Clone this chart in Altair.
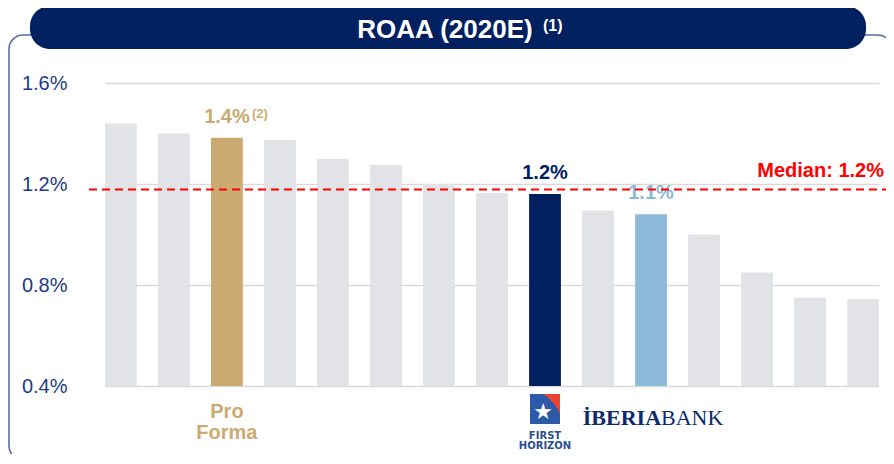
import altair as alt
import pandas as pd

# ---------------- data ----------------
categories = ["Peer 1", "Peer 2", "Pro Forma", "Peer 3", "Peer 4", "Peer 5", "Peer 6",
              "Peer 7", "First Horizon", "Peer 8", "IBERIABANK", "Peer 9", "Peer 10",
              "Peer 11", "Peer 12"]
values = [1.44, 1.40, 1.383, 1.375, 1.30, 1.275, 1.20, 1.165, 1.16, 1.095, 1.08,
          1.00, 0.85, 0.75, 0.745]
groups = ["peer", "peer", "pro_forma", "peer", "peer", "peer", "peer", "peer",
          "first_horizon", "peer", "iberiabank", "peer", "peer", "peer", "peer"]
bar_labels = ["", "", "1.4%", "", "", "", "", "", "1.2%", "", "1.1%", "", "", "", ""]
median_value = [1.178]
median_label = ["Median: 1.2%"]
y_ticks = [0.4, 0.8, 1.2, 1.6]
title_text = ["ROAA (2020E)"]
title_note = ["(1)"]
proforma_note = ["(2)"]
bottom_proforma = ["Pro\nForma"]
bottom_fhn = ["FIRST\nHORIZON"]
bottom_ibkc_a = ["İBERIA"]
bottom_ibkc_b = ["BANK"]

group_domain = ["peer", "pro_forma", "first_horizon", "iberiabank"]
group_colors = ["#e2e3e7", "#cbab72", "#002060", "#8cb9d7"]

FONT = "Liberation Sans"
NAVY = "#002060"

df = pd.DataFrame({"cat": categories, "value": values, "group": groups,
                   "label": bar_labels})
df["base"] = min(y_ticks)

W, H = 796, 303

xenc = alt.X("cat:N", sort=categories, axis=None,
             scale=alt.Scale(range=[19, 793], paddingInner=0.4, paddingOuter=0))
yscale = alt.Scale(domain=[min(y_ticks), max(y_ticks)], nice=False, zero=False)
cenc = alt.Color("group:N", scale=alt.Scale(domain=group_domain, range=group_colors),
                 legend=None)

base = alt.Chart(df)

bars = base.mark_bar().encode(
    x=xenc,
    y=alt.Y("value:Q", scale=yscale, title=None,
            axis=alt.Axis(values=y_ticks, labelExpr="format(datum.value, '.1f') + '%'",
                          ticks=False, domain=False, grid=True, gridColor="#d9d9d9",
                          gridWidth=1.5, labelFont=FONT, labelFontSize=20,
                          labelColor="#1c3a88", labelPadding=19)),
    y2="base:Q",
    color=cenc,
)

labels = base.transform_filter("datum.label != ''").mark_text(
    font=FONT, fontSize=20, fontWeight="bold", baseline="bottom", dy=-11
).encode(
    x=xenc,
    y=alt.Y("value:Q", scale=yscale),
    text="label:N",
    color=cenc,
)

pf_df = df[df["group"] == "pro_forma"].assign(note=proforma_note)
pf_note = alt.Chart(pf_df).mark_text(
    font=FONT, fontSize=13, fontWeight="bold", baseline="bottom", align="left",
    dx=25, dy=-17, color="#cbab72"
).encode(x=xenc, y=alt.Y("value:Q", scale=yscale), text="note:N")

med_df = pd.DataFrame({"m": median_value, "lab": median_label})
med_rule = alt.Chart(med_df).mark_rule(color="#ff0000", strokeWidth=2,
                                       strokeDash=[8, 5]).encode(
    y=alt.Y("m:Q", scale=yscale), x=alt.value(3), x2=alt.value(800))
med_text = alt.Chart(med_df).mark_text(
    font=FONT, fontSize=20, fontWeight="bold", color="#ff0000", align="right",
    baseline="bottom", dy=-9
).encode(y=alt.Y("m:Q", scale=yscale), x=alt.value(798), text="lab:N")

# bottom labels
pf_bottom = alt.Chart(pf_df.assign(t=bottom_proforma)).mark_text(
    font=FONT, fontSize=20, fontWeight="bold", color="#cbab72", baseline="top",
    lineHeight=21, lineBreak="\n"
).encode(x=xenc, y=alt.value(319), text="t:N")

fhn_df = df[df["group"] == "first_horizon"].assign(t=bottom_fhn, star=["★"])
fhn_square = alt.Chart(fhn_df).mark_point(
    shape="M -1 -1 L 1 -1 L 1 1 L -1 1 Z", filled=True, fill="#2c5aa8",
    opacity=1, size=900, strokeWidth=0).encode(
    x=xenc, y=alt.value(326))
fhn_corner = alt.Chart(fhn_df).mark_point(
    shape="M -0.1 -1 L 1 -1 L 1 0.3 Q 0.6 -0.5 -0.1 -1 Z", filled=True,
    fill="#e8442f", opacity=1, size=900, strokeWidth=0).encode(
    x=xenc, y=alt.value(326))
fhn_star = alt.Chart(fhn_df).mark_text(color="white", fontSize=22, font="DejaVu Sans",
                                       dx=-2).encode(
    x=xenc, y=alt.value(329), text="star:N")
fhn_text = alt.Chart(fhn_df).mark_text(
    font="DejaVu Sans", fontSize=10, fontWeight="bold", color="#2b4f8c", baseline="top",
    lineHeight=10, lineBreak="\n", dx=0
).encode(x=xenc, y=alt.value(348), text="t:N")

ibkc_df = df[df["group"] == "iberiabank"]
ibkc_a = alt.Chart(ibkc_df.assign(t=bottom_ibkc_a)).mark_text(
    font="Liberation Serif", fontSize=22, fontWeight="bold", color="#0d2a6b",
    baseline="alphabetic", align="right", dx=10
).encode(x=xenc, y=alt.value(342), text="t:N")
ibkc_b = alt.Chart(ibkc_df.assign(t=bottom_ibkc_b)).mark_text(
    font="Liberation Serif", fontSize=22, fontWeight="normal", color="#0d2a6b",
    baseline="alphabetic", align="left", dx=10
).encode(x=xenc, y=alt.value(342), text="t:N")

# frame and title banner
one = pd.DataFrame({"t": title_text, "n": title_note})
frame = alt.Chart(one).mark_rect(fill=None, stroke="#5b6e9e", strokeWidth=1.6,
                                 cornerRadius=14).encode(
    x=alt.value(-77), x2=alt.value(806), y=alt.value(-48), y2=alt.value(377))
banner = alt.Chart(one).mark_rect(color=NAVY, cornerRadius=20).encode(
    x=alt.value(-56), x2=alt.value(780), y=alt.value(-77), y2=alt.value(-34))
title = alt.Chart(one).mark_text(font=FONT, fontSize=26, fontWeight="bold",
                                 color="white", baseline="middle").encode(
    x=alt.value(359), y=alt.value(-53), text="t:N")
title_sup = alt.Chart(one).mark_text(font=FONT, fontSize=16, fontWeight="bold",
                                     color="white", align="left", baseline="middle").encode(
    x=alt.value(457), y=alt.value(-57), text="n:N")

chart = alt.layer(
    frame, banner, title, title_sup, bars, labels, pf_note, med_rule, med_text,
    pf_bottom, fhn_square, fhn_corner, fhn_star, fhn_text, ibkc_a, ibkc_b
).properties(
    width=W, height=H,
    padding={"left": 78, "top": 75, "right": 4, "bottom": 68},
    autosize=alt.AutoSizeParams(type="none"),
).configure_view(stroke=None)

chart.save("out.html", embed_options={"renderer": "svg", "actions": False})
